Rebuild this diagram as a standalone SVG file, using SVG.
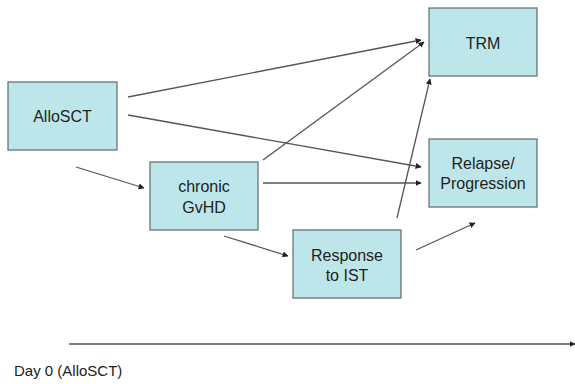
<svg xmlns="http://www.w3.org/2000/svg" width="575" height="384" viewBox="0 0 575 384">
<style>
.box{fill:#bde6ea;stroke:#6b7474;stroke-width:1.3}
.lbl{font-family:"Liberation Sans",Arial,sans-serif;font-size:16px;fill:#222;text-anchor:middle}
.ln{stroke:#555;stroke-width:1.3;fill:none;marker-end:url(#ah)}
</style>
<defs>
<marker id="ah" viewBox="0 0 10 10" refX="9" refY="5" markerWidth="6" markerHeight="6" markerUnits="userSpaceOnUse" orient="auto">
<path d="M0,0 L10,5 L0,10 z" fill="#222"/>
</marker>
</defs>
<rect width="575" height="384" fill="#fff"/>
<g id="connectors">
<line class="ln" x1="128" y1="97" x2="421" y2="40"/>
<line class="ln" x1="128" y1="115" x2="421" y2="167"/>
<line class="ln" x1="76" y1="167" x2="144" y2="188"/>
<line class="ln" x1="263" y1="160" x2="424" y2="42"/>
<line class="ln" x1="263" y1="183" x2="421" y2="183"/>
<line class="ln" x1="224" y1="236" x2="288" y2="256"/>
<line class="ln" x1="397" y1="218" x2="430" y2="79"/>
<line class="ln" x1="416" y1="250" x2="475" y2="223"/>
<line class="ln" x1="69" y1="344" x2="575" y2="344"/>
</g>
<g id="allosct"><rect class="box" x="8" y="82" width="109" height="68"/><text class="lbl" x="62.5" y="122">AlloSCT</text></g>
<g id="gvhd"><rect class="box" x="150" y="162" width="108" height="68"/><text class="lbl" x="204" y="192">chronic</text><text class="lbl" x="204" y="213">GvHD</text></g>
<g id="response"><rect class="box" x="293" y="230" width="108" height="68"/><text class="lbl" x="347" y="261">Response</text><text class="lbl" x="347" y="281">to IST</text></g>
<g id="trm"><rect class="box" x="429" y="8" width="108" height="68"/><text class="lbl" x="483" y="49">TRM</text></g>
<g id="relapse"><rect class="box" x="429" y="139" width="108" height="68"/><text class="lbl" x="483" y="169">Relapse/</text><text class="lbl" x="483" y="189">Progression</text></g>
<text x="14" y="376" style="font-family:'Liberation Sans',Arial,sans-serif;font-size:15px;fill:#222">Day 0 (AlloSCT)</text>
</svg>
